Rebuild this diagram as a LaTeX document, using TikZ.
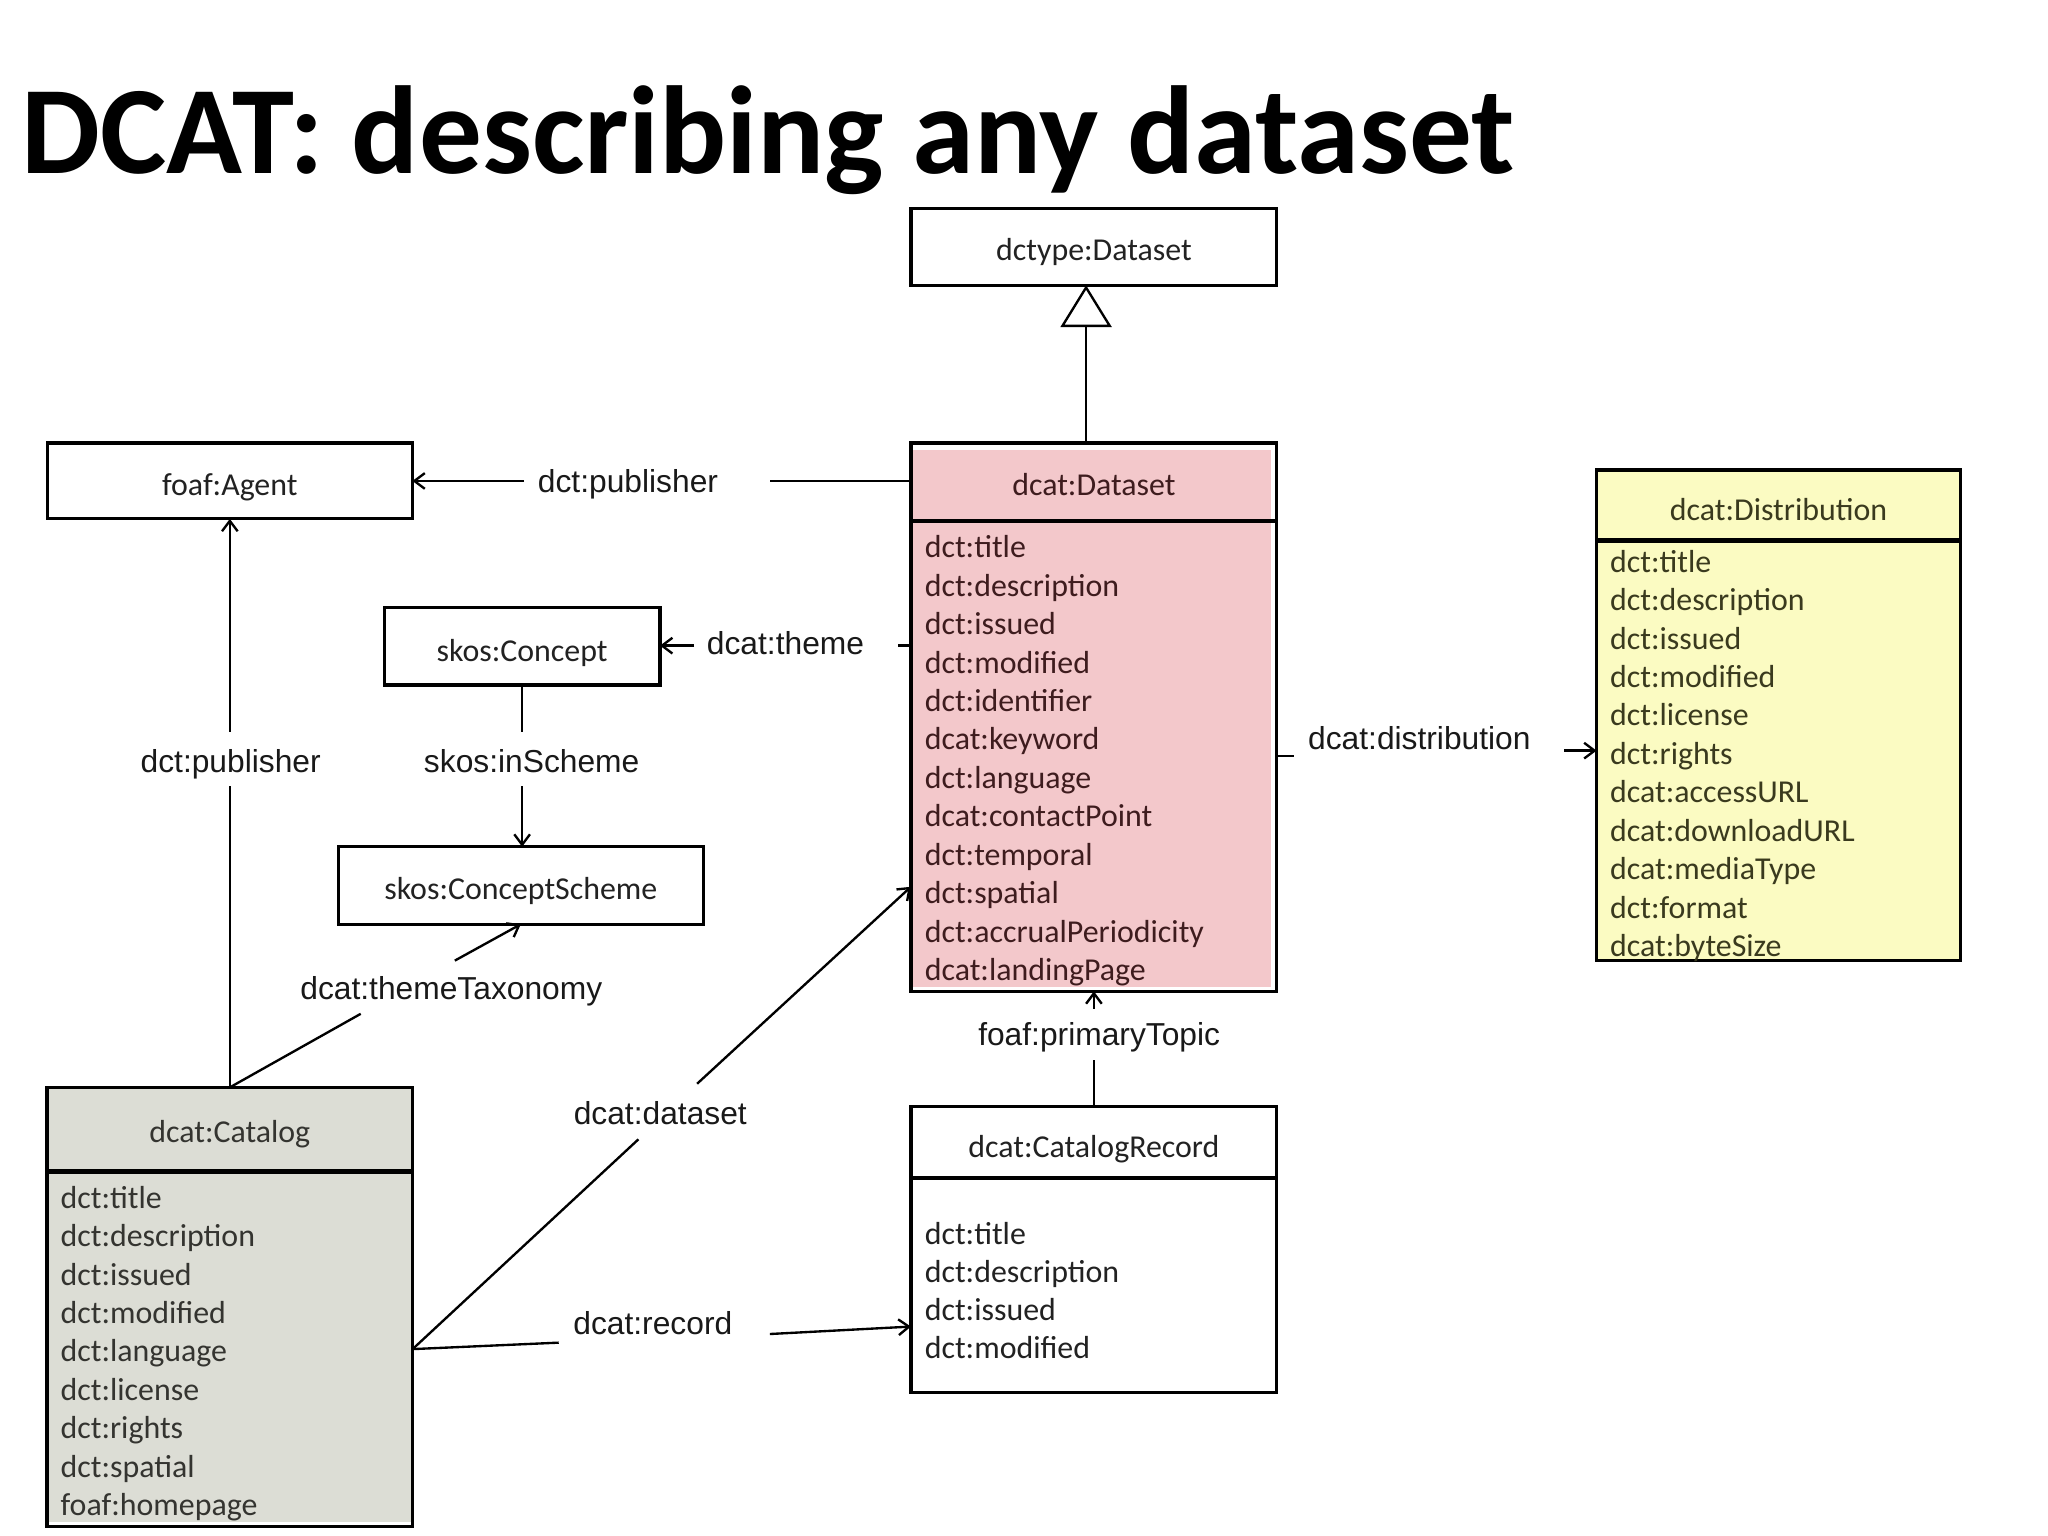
\documentclass[tikz,border=0pt]{standalone}
\usepackage{fontspec}
\setmainfont{Carlito}
\newfontfamily\labfont{Liberation Sans}
\usetikzlibrary{arrows.meta,calc,backgrounds}
\definecolor{pinkF}{RGB}{243,200,203}
\definecolor{grayF}{RGB}{220,221,213}
\definecolor{yelF}{RGB}{251,251,194}
\definecolor{dsT}{RGB}{62,28,30}
\definecolor{catT}{RGB}{52,52,48}
\definecolor{distT}{RGB}{58,58,30}
\definecolor{boxT}{RGB}{34,34,34}
\begin{document}
\begin{tikzpicture}[x=1pt,y=-1pt,
  cls/.style={draw=black, line width=2.4pt, inner sep=0pt, outer sep=0pt},
  conn/.style={draw=black, line width=1.8pt},
  arr/.style={conn, -{Straight Barb[length=8pt,width=12pt]}},
  lbl/.style={font=\labfont\fontsize{24.3}{29}\selectfont, text=black!90, inner sep=0pt, anchor=base},
  hdr/.style={font=\fontsize{24.4}{29.4}\selectfont, inner sep=0pt, anchor=base},
  attr/.style={font=\fontsize{24.4}{29.4}\selectfont, inner sep=0pt, anchor=base west},
  sepline/.style={draw=black, line width=3.4pt}]
\useasboundingbox (0,0) rectangle (1567,1175);

% title
\node[anchor=base west, inner sep=0pt, font=\bfseries\fontsize{95.8}{100}\selectfont] (title) at (16,132.6) {DCAT: describing any dataset};

% simple class boxes
\node[cls, minimum width=280pt, minimum height=58.5pt] (dtype) at (837,189) {};
\node[cls, minimum width=279.5pt, minimum height=58pt] (agent) at (175.8,368) {};
\node[cls, minimum width=211pt, minimum height=59pt] (concept) at (399.5,494.6) {};
\node[cls, minimum width=279pt, minimum height=59.3pt] (scheme) at (398.5,677.5) {};

% dcat:Dataset
\node[cls, minimum width=280pt, minimum height=59.5pt] (dsh) at (837,368.75) {};
\node[cls, minimum width=280pt, minimum height=360pt] (dsb) at (837,578.5) {};
% dcat:Catalog
\node[cls, minimum width=279.7pt, minimum height=64.5pt] (cath) at (175.85,864.25) {};
\node[cls, minimum width=279.7pt, minimum height=271.5pt] (catb) at (175.85,1032.25) {};
% dcat:CatalogRecord
\node[cls, minimum width=280pt, minimum height=54.8pt] (crh) at (837,874.1) {};
\node[cls, minimum width=280pt, minimum height=163.8pt] (crb) at (837,983.4) {};
% dcat:Distribution
\node[cls, minimum width=278.5pt, minimum height=54.1pt] (disth) at (1360.85,386.65) {};
\node[cls, minimum width=278.5pt, minimum height=321.3pt] (distb) at (1360.85,574.35) {};

\begin{pgfonlayer}{background}
\fill[pinkF] ($(dsh.north west)+(1.2,5)$) rectangle ($(dsb.south east)+(-4.5,-3.5)$);
\fill[grayF] ($(cath.north west)+(1,1)$) rectangle ($(catb.south east)+(-1,-3.5)$);
\fill[yelF] ($(disth.north west)+(1,1)$) rectangle ($(distb.south east)+(-1,-1)$);
\end{pgfonlayer}

% separators
\draw[sepline] (dsh.south west) -- (dsh.south east);
\draw[sepline] (cath.south west) -- (cath.south east);
\draw[sepline] (crh.south west) -- (crh.south east);
\draw[sepline] (disth.south west) -- (disth.south east);

% header texts
\node[hdr, text=boxT] (tdtype) at (837,199.5) {dctype:Dataset};
\node[hdr, text=boxT] (tagent) at (175.8,379.5) {foaf:Agent};
\node[hdr, text=boxT] (tconcept) at (399.5,506) {skos:Concept};
\node[hdr, text=boxT] (tscheme) at (398.5,688.5) {skos:ConceptScheme};
\node[hdr, text=dsT] (tds) at (837,379.5) {dcat:Dataset};
\node[hdr, text=catT] (tcat) at (175.85,874.5) {dcat:Catalog};
\node[hdr, text=boxT] (tcr) at (837,886) {dcat:CatalogRecord};
\node[hdr, text=distT] (tdist) at (1360.85,398.5) {dcat:Distribution};

% attributes
\foreach \t [count=\i] in {dct:title,dct:description,dct:issued,dct:modified,dct:identifier,dcat:keyword,dct:language,dcat:contactPoint,dct:temporal,dct:spatial,dct:accrualPeriodicity,dcat:landingPage}
  \node[attr, text=dsT] (dsa\i) at (707.4,{426.8+29.4*(\i-1)}) {\t};
\foreach \t [count=\i] in {dct:title,dct:description,dct:issued,dct:modified,dct:license,dct:rights,dcat:accessURL,dcat:downloadURL,dcat:mediaType,dct:format,dcat:byteSize}
  \node[attr, text=distT] (dia\i) at (1231.8,{437.8+29.4*(\i-1)}) {\t};
\foreach \t [count=\i] in {dct:title,dct:description,dct:issued,dct:modified,dct:language,dct:license,dct:rights,dct:spatial,foaf:homepage}
  \node[attr, text=catT] (caa\i) at (46.2,{924.5+29.4*(\i-1)}) {\t};
\foreach \t [count=\i] in {dct:title,dct:description,dct:issued,dct:modified}
  \node[attr, text=boxT] (cra\i) at (707.4,{952+29.07*(\i-1)}) {\t};

% generalization
\coordinate (gx) at (831,0);
\draw[conn, -{Triangle[open,length=32pt,width=39pt]}] (dsh.north -| gx) -- (dtype.south -| gx);

% dct:publisher (Dataset -> Agent)
\coordinate (pubA) at (589.5,368);
\coordinate (pubB) at (401,368);
\draw[conn] (dsh.west |- pubA) -- (pubA);
\draw[arr] (pubB) -- (agent.east);
\node[lbl] (lpub) at (480.5,377.2) {dct:publisher};

% dcat:theme
\coordinate (thA) at (687,494);
\coordinate (thB) at (531,494);
\draw[conn] (dsb.west |- thA) -- (thA);
\draw[arr] (thB) -- (concept.east |- thB);
\node[lbl] (ltheme) at (601,501) {dcat:theme};

% skos:inScheme
\coordinate (isA) at (399.5,560);
\coordinate (isB) at (399.5,601.5);
\draw[conn] (concept.south) -- (isA);
\draw[arr] (isB) -- (scheme.north -| isB);
\node[lbl] (linscheme) at (406.8,591.3) {skos:inScheme};

% dct:publisher (Catalog -> Agent)
\coordinate (pvA) at (175.85,601.5);
\coordinate (pvB) at (175.85,560);
\draw[conn] (cath.north) -- (pvA);
\draw[arr] (pvB) -- (agent.south -| pvB);
\node[lbl] (lpub2) at (176.5,591.3) {dct:publisher};

% dcat:themeTaxonomy
\coordinate (ttA) at (276,775.7);
\coordinate (ttB) at (348,735);
\draw[conn] (cath.north) -- (ttA);
\draw[arr] (ttB) -- (scheme.south);
\node[lbl] (ltax) at (345.3,765) {dcat:themeTaxonomy};

% dcat:dataset
\coordinate (dsA) at (488.5,871.7);
\coordinate (dsB) at (533.4,829.2);
\coordinate (dsC) at (0,678.5);
\draw[conn] (catb.east) -- (dsA);
\draw[arr] (dsB) -- (dsb.west |- dsC);
\node[lbl] (ldataset) at (505.2,860.6) {dcat:dataset};

% dcat:record
\coordinate (rcA) at (427.5,1027.3);
\coordinate (rcB) at (589.1,1020.7);
\coordinate (rcC) at (0,1015);
\draw[conn] (catb.east) -- (rcA);
\draw[arr] (rcB) -- (crb.west |- rcC);
\node[lbl] (lrecord) at (499.5,1021.3) {dcat:record};

% foaf:primaryTopic
\coordinate (ptA) at (837,811);
\coordinate (ptB) at (837,772);
\draw[conn] (crh.north) -- (ptA);
\draw[arr] (ptB) -- (dsb.south);
\node[lbl] (lpt) at (841,800) {foaf:primaryTopic};

% dcat:distribution
\coordinate (dtA) at (990,578.5);
\coordinate (dtB) at (1197,574.35);
\draw[conn] (dsb.east) -- (dtA);
\draw[arr] (dtB) -- (distb.west);
\node[lbl] (ldist) at (1086,573.4) {dcat:distribution};
\end{tikzpicture}
\end{document}
